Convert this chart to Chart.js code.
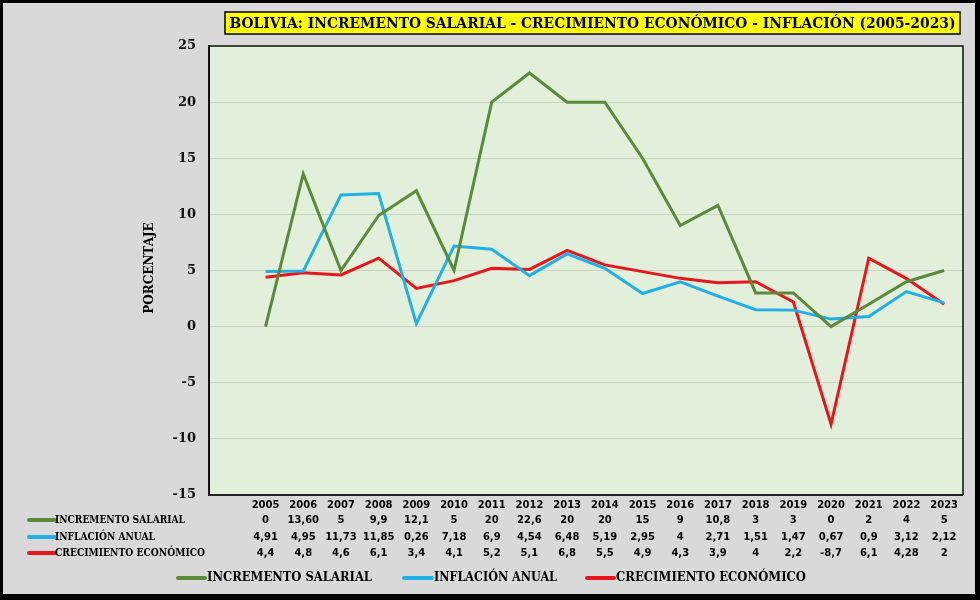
<!DOCTYPE html>
<html>
<head>
<meta charset="utf-8">
<script src="https://cdn.jsdelivr.net/npm/chart.js@4.4.1/dist/chart.umd.min.js"></script>
<style>
  html, body { margin: 0; padding: 0; background: #000; }
  #wrap { width: 980px; height: 600px; position: relative; }
  canvas { display: block; }
</style>
</head>
<body>
<div id="wrap"><canvas id="c" width="980" height="600"></canvas></div>
<script>
const years = ['2005','2006','2007','2008','2009','2010','2011','2012','2013','2014','2015','2016','2017','2018','2019','2020','2021','2022','2023'];
const incrementoSalarial = [0, 13.60, 5, 9.9, 12.1, 5, 20, 22.6, 20, 20, 15, 9, 10.8, 3, 3, 0, 2, 4, 5];
const inflacionAnual = [4.91, 4.95, 11.73, 11.85, 0.26, 7.18, 6.9, 4.54, 6.48, 5.19, 2.95, 4, 2.71, 1.51, 1.47, 0.67, 0.9, 3.12, 2.12];
const crecimientoEconomico = [4.4, 4.8, 4.6, 6.1, 3.4, 4.1, 5.2, 5.1, 6.8, 5.5, 4.9, 4.3, 3.9, 4, 2.2, -8.7, 6.1, 4.28, 2];
const yTicks = [25, 20, 15, 10, 5, 0, -5, -10, -15];
const titleText = 'BOLIVIA: INCREMENTO SALARIAL - CRECIMIENTO ECONÓMICO - INFLACIÓN (2005-2023)';
const seriesNames = ['INCREMENTO SALARIAL', 'INFLACIÓN ANUAL', 'CRECIMIENTO ECONÓMICO'];
const seriesColors = ['#5b8a3a', '#21b0e6', '#e8161b'];

const labels = [''].concat(years);
const pad = arr => [null].concat(arr);

function fmt(v, row, i) {
  if (row === 0 && i === 1) return v.toFixed(2).replace('.', ',');
  return String(v).replace('.', ',');
}

const deco = {
  id: 'deco',
  beforeDraw(chart) {
    const ctx = chart.ctx;
    const a = chart.chartArea;
    ctx.save();
    ctx.fillStyle = '#000';
    ctx.fillRect(0, 0, 980, 600);
    ctx.fillStyle = '#d9d9d9';
    ctx.fillRect(3, 3, 972, 591);
    ctx.fillStyle = '#e2efda';
    ctx.fillRect(a.left, a.top, a.right - a.left, a.bottom - a.top);
    ctx.restore();
  },
  afterDraw(chart) {
    const ctx = chart.ctx;
    const a = chart.chartArea;
    const xs = chart.scales.x;
    ctx.save();
    ctx.strokeStyle = '#111';
    ctx.lineWidth = 1.5;
    ctx.beginPath();
    ctx.moveTo(a.left, a.top); ctx.lineTo(a.right, a.top); ctx.lineTo(a.right, a.bottom);
    ctx.stroke();
    ctx.lineWidth = 2;
    ctx.strokeStyle = '#222';
    ctx.beginPath();
    ctx.moveTo(a.left, a.bottom); ctx.lineTo(a.right, a.bottom);
    ctx.stroke();

    // title box
    ctx.fillStyle = '#ffff00';
    ctx.fillRect(225, 12, 735, 22);
    ctx.strokeStyle = '#000';
    ctx.lineWidth = 1.5;
    ctx.strokeRect(225, 12, 735, 22);
    ctx.fillStyle = '#000';
    ctx.font = 'bold 14px "DejaVu Serif"';
    ctx.textAlign = 'center';
    ctx.textBaseline = 'middle';
    ctx.fillText(titleText, 592.5, 24, 726);

    // y axis title
    ctx.save();
    ctx.translate(150, 268);
    ctx.rotate(-Math.PI / 2);
    ctx.font = 'bold 12px "DejaVu Serif"';
    ctx.fillText('PORCENTAJE', 0, 0, 100);
    ctx.restore();

    // data table
    const rows = [incrementoSalarial, inflacionAnual, crecimientoEconomico];
    const rowY = [520, 537, 553];
    ctx.font = 'bold 10px "DejaVu Sans"';
    ctx.textAlign = 'center';
    years.forEach((y, i) => {
      ctx.fillText(y, xs.getPixelForValue(i + 1), 505);
    });
    rows.forEach((r, ri) => {
      r.forEach((v, i) => {
        ctx.fillText(fmt(v, ri, i), xs.getPixelForValue(i + 1), rowY[ri]);
      });
    });
    ctx.lineCap = 'round';
    const hdrW = [130, 100, 150];
    rows.forEach((r, ri) => {
      ctx.strokeStyle = seriesColors[ri];
      ctx.lineWidth = 4;
      ctx.beginPath();
      ctx.moveTo(29, rowY[ri]); ctx.lineTo(55, rowY[ri]);
      ctx.stroke();
      ctx.fillStyle = '#000';
      ctx.font = 'bold 11px "DejaVu Serif"';
      ctx.textAlign = 'left';
      ctx.fillText(seriesNames[ri], 55, rowY[ri], hdrW[ri]);
    });

    // bottom legend
    const leg = [[178, 205, 207, 165], [404, 432, 434, 123], [587, 614, 616, 190]];
    leg.forEach((l, i) => {
      ctx.strokeStyle = seriesColors[i];
      ctx.lineWidth = 4;
      ctx.beginPath();
      ctx.moveTo(l[0], 578); ctx.lineTo(l[1], 578);
      ctx.stroke();
      ctx.fillStyle = '#000';
      ctx.font = 'bold 13px "DejaVu Serif"';
      ctx.textAlign = 'left';
      ctx.fillText(seriesNames[i], l[2], 578, l[3]);
    });
    ctx.restore();
  }
};

new Chart(document.getElementById('c'), {
  type: 'line',
  data: {
    labels: labels,
    datasets: [
      { label: seriesNames[0], data: pad(incrementoSalarial), borderColor: seriesColors[0], borderWidth: 3, pointRadius: 0, tension: 0 },
      { label: seriesNames[1], data: pad(inflacionAnual), borderColor: seriesColors[1], borderWidth: 3, pointRadius: 0, tension: 0 },
      { label: seriesNames[2], data: pad(crecimientoEconomico), borderColor: seriesColors[2], borderWidth: 3, pointRadius: 0, tension: 0 }
    ]
  },
  options: {
    responsive: false,
    animation: false,
    devicePixelRatio: 1,
    layout: { padding: { top: 46, right: 17, bottom: 105, left: 0 } },
    plugins: { legend: { display: false }, title: { display: false }, tooltip: { enabled: false } },
    scales: {
      x: { display: false, offset: true, grid: { display: false } },
      y: {
        min: -15, max: 25,
        afterFit(s) { s.width = 209; },
        afterBuildTicks(s) { s.ticks = yTicks.map(v => ({ value: v })); },
        grid: { color: 'rgba(150,170,140,0.35)', lineWidth: 1, drawTicks: false },
        border: { display: true, color: '#111', width: 2 },
        ticks: { color: '#111', padding: 13, font: { family: 'DejaVu Serif', weight: 'bold', size: 13 } }
      }
    }
  },
  plugins: [deco]
});
</script>
</body>
</html>
